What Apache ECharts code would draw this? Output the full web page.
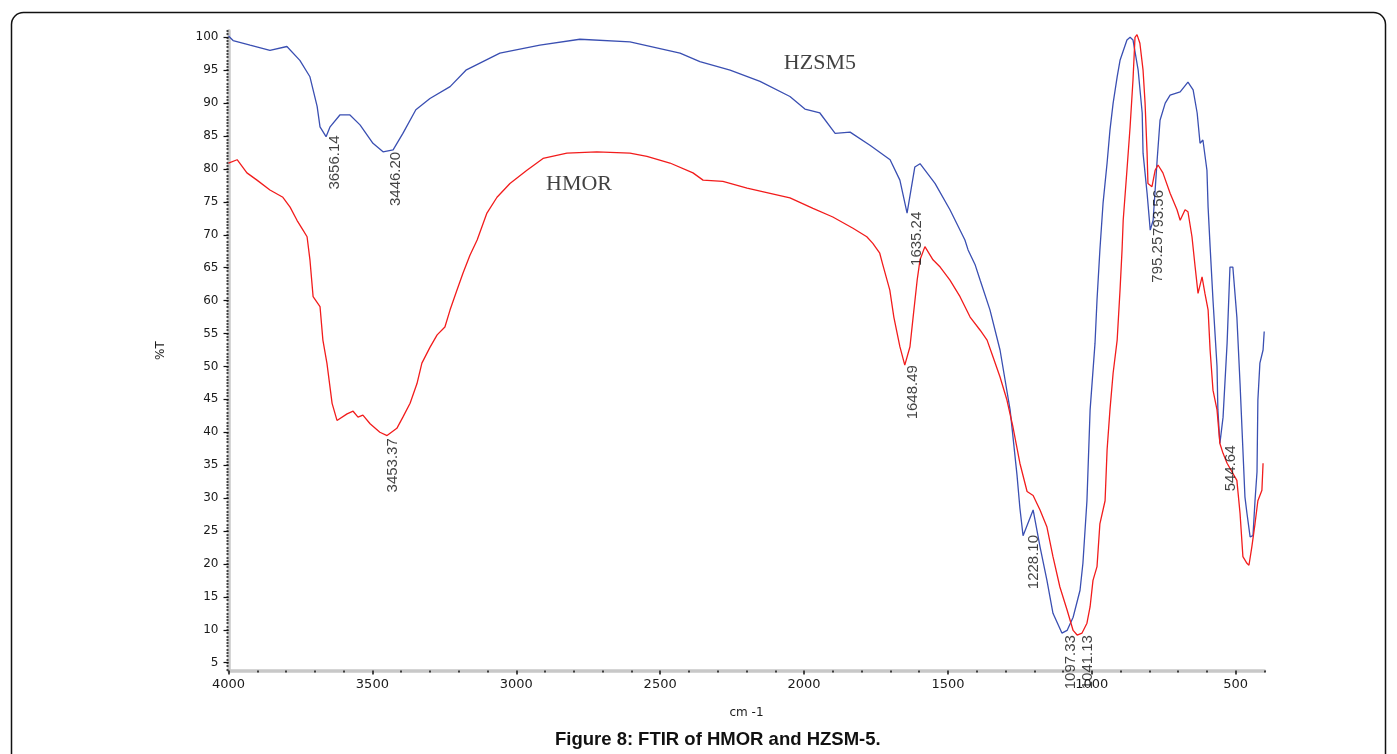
<!DOCTYPE html>
<html><head><meta charset="utf-8">
<script src="https://cdn.jsdelivr.net/npm/echarts@6/dist/echarts.min.js"></script>
<style>html,body{margin:0;padding:0;background:#fff}#c{width:1397px;height:754px}</style>
</head><body><div id="c"></div>
<script>
// ---- data ----
const hzsm5Wavenumber = [4000,3984,3925,3856,3797,3752,3717,3692,3682,3661,3647,3613,3578,3543,3498,3463,3428,3394,3349,3300,3230,3175,3057,2918,2779,2605,2431,2362,2257,2153,2049,1997,1945,1892,1840,1771,1701,1667,1642,1615,1597,1545,1493,1441,1430,1406,1388,1354,1319,1284,1274,1260,1250,1239,1204,1180,1156,1135,1104,1086,1065,1041,1031,1017,1006,989,982,972,961,947,937,926,912,902,878,867,857,839,825,822,808,797,787,773,763,745,728,693,666,648,634,624,614,600,596,589,579,565,562,555,544,530,520,510,496,485,475,468,461,450,440,433,426,423,416,405,401];
const hzsm5T = [100.2,99.5,98.8,98.0,98.6,96.5,94.0,89.5,86.4,84.9,86.4,88.2,88.2,86.7,83.9,82.6,82.9,85.4,89.0,90.7,92.5,95.0,97.6,98.8,99.7,99.3,97.6,96.3,95.0,93.3,91.0,89.1,88.5,85.4,85.6,83.6,81.4,78.3,73.3,80.3,80.8,77.8,73.8,69.2,67.7,65.5,63.1,58.6,52.5,43.4,39.3,33.5,28.5,24.3,28.2,22.6,17.5,12.5,9.5,9.9,11.9,16.0,20.1,29.6,43.4,53.5,60.1,67.7,74.8,80.9,85.9,90.0,94.0,96.5,99.6,100.0,99.6,95.0,88.5,82.4,76.3,70.7,72.2,81.4,87.4,90.0,91.2,91.7,93.2,92.0,88.5,83.9,84.4,79.8,74.2,68.2,60.1,50.0,43.4,38.3,42.3,53.5,65.1,65.1,57.5,47.4,37.3,30.2,27.7,24.1,24.3,29.6,34.0,44.9,50.5,52.5,55.3];
const hmorWavenumber = [4000,3970,3936,3901,3856,3811,3786,3762,3741,3727,3717,3706,3682,3672,3658,3640,3623,3588,3567,3550,3533,3508,3474,3449,3415,3394,3369,3345,3328,3300,3275,3248,3230,3206,3185,3161,3136,3102,3067,3022,2963,2907,2824,2720,2605,2546,2466,2386,2351,2282,2198,2118,2049,1969,1900,1830,1782,1761,1737,1726,1702,1688,1667,1650,1632,1621,1607,1597,1580,1552,1527,1493,1458,1423,1388,1364,1343,1319,1295,1274,1250,1225,1204,1180,1156,1135,1111,1086,1065,1051,1034,1017,1006,996,982,972,954,947,937,926,912,902,895,891,878,867,857,850,843,833,822,815,808,805,791,780,770,753,728,704,693,676,666,652,641,631,617,607,596,589,579,565,555,544,530,496,485,475,461,454,444,433,423,409,405];
const hmorT = [80.9,81.4,79.4,78.3,76.8,75.7,74.2,72.2,70.7,69.7,66.2,60.6,59.1,54.0,50.5,44.4,41.8,42.8,43.2,42.3,42.6,41.3,40.0,39.5,40.6,42.3,44.4,47.4,50.5,52.9,54.8,56.0,58.6,61.6,64.2,66.9,69.2,73.3,75.7,77.8,79.8,81.6,82.4,82.6,82.4,81.9,80.9,79.4,78.3,78.1,77.1,76.3,75.6,74.0,72.7,71.0,69.7,68.7,67.2,65.4,61.6,57.5,53.0,50.2,53.0,57.5,63.1,66.2,68.2,66.2,65.1,63.1,60.6,57.5,55.5,54.0,51.4,48.4,44.9,40.8,35.3,31.0,30.4,28.2,25.6,21.1,16.5,13.0,9.9,9.2,9.5,11.0,13.5,17.5,19.6,26.1,29.6,37.3,43.4,49.0,54.0,61.6,67.7,72.2,79.8,86.4,93.5,100.0,100.4,99.1,95.0,90.0,82.4,77.8,77.3,79.8,80.6,79.4,76.3,73.8,72.2,73.8,73.5,69.7,65.1,61.1,63.6,61.1,58.6,52.5,46.4,43.4,38.3,36.8,35.3,32.7,27.7,21.1,20.1,19.8,22.6,26.1,29.6,31.2,35.3];

const peakWavenumber = [3656.14, 3446.20, 3453.37, 1635.24, 1648.49, 1228.10, 1097.33, 1041.13, 795.25, 793.56, 544.64];
const peakT = [85.1, 82.6, 39.1, 73.5, 50.2, 24.4, 9.2, 9.2, 69.7, 76.8, 38.0];
const peakLabels = ['3656.14','3446.20','3453.37','1635.24','1648.49','1228.10','1097.33','1041.13','795.25','793.56','544.64'];

const curveNames = ['HZSM5', 'HMOR'];
const curveNameWavenumber = [1945, 2782];
const curveNameT = [96.0, 77.7];

const xMajorTicks = [4000, 3500, 3000, 2500, 2000, 1500, 1000, 500];
const yMajorTicks = [5,10,15,20,25,30,35,40,45,50,55,60,65,70,75,80,85,90,95,100];
const xTitle = 'cm -1';
const yTitle = '%T';

// ---- build ----
const zip = (a, b) => a.map((v, i) => [v, b[i]]);
const yMinorTicks = [];
for (let v = 4; v <= 101; v += 0.5) yMinorTicks.push(v);

const X_MIN = 400, X_MAX = 4000, Y_MIN = 3.8, Y_MAX = 101;
const tickFont = { fontFamily: 'DejaVu Sans', fontSize: 12, color: '#1a1a1a' };
const plain = v => String(v);

const chart = echarts.init(document.getElementById('c'), null, { renderer: 'canvas' });
chart.setOption({
  animation: false,
  backgroundColor: '#ffffff',
  title: {
    left: 550, top: 725,
    text: '{b|Figure 8:} {n|FTIR of HMOR and HZSM-5.}',
    textStyle: {
      rich: {
        b: { fontFamily: 'Liberation Sans', fontSize: 18.5, fontWeight: 'bold', color: '#111' },
        n: { fontFamily: 'Liberation Sans', fontSize: 18.5, color: '#111' }
      }
    }
  },
  graphic: [{
    type: 'rect', silent: true, z: -10,
    shape: { x: 11.5, y: 12.5, width: 1374, height: 800, r: 12 },
    style: { fill: 'none', stroke: '#111', lineWidth: 1.5 }
  }],
  grid: { left: 228.5, right: 132.5, top: 30.7, bottom: 83.4, containLabel: false },
  xAxis: [{
    type: 'value', inverse: true, min: X_MIN, max: X_MAX,
    name: xTitle, nameLocation: 'middle', nameGap: 36,
    nameTextStyle: { fontFamily: 'DejaVu Sans', fontSize: 12, color: '#1a1a1a' },
    axisLine: { show: true, onZero: false, lineStyle: { color: '#c8c8c8', width: 3.5 } },
    axisTick: { show: true, customValues: xMajorTicks, length: 4, lineStyle: { color: '#111', width: 1.5 } },
    axisLabel: { show: true, customValues: xMajorTicks, formatter: plain, margin: 8, ...tickFont, fontSize: 13 },
    splitLine: { show: false }
  }, {
    type: 'value', inverse: true, min: X_MIN, max: X_MAX, interval: 100, gridIndex: 0, position: 'bottom',
    axisLine: { show: false }, axisLabel: { show: false }, splitLine: { show: false },
    axisTick: { show: true, length: 2, lineStyle: { color: '#111', width: 1.5 } }
  }],
  yAxis: [{
    type: 'value', min: Y_MIN, max: Y_MAX,
    name: yTitle, nameLocation: 'middle', nameGap: 62, nameRotate: 90,
    nameTextStyle: { fontFamily: 'DejaVu Sans', fontSize: 12, color: '#1a1a1a' },
    axisLine: { show: true, onZero: false, lineStyle: { color: '#c8c8c8', width: 3.5 } },
    axisTick: { show: true, customValues: yMajorTicks, length: 5, lineStyle: { color: '#111', width: 1.2 } },
    axisLabel: { show: true, customValues: yMajorTicks, formatter: plain, margin: 10, ...tickFont },
    splitLine: { show: false }
  }, {
    type: 'value', min: Y_MIN, max: Y_MAX, gridIndex: 0, position: 'left',
    axisLine: { show: false }, axisLabel: { show: false }, splitLine: { show: false },
    axisTick: { show: true, customValues: yMinorTicks, length: 2, lineStyle: { color: '#111', width: 1.5 } }
  }],
  series: [{
    name: 'HZSM5', type: 'line', xAxisIndex: 0, yAxisIndex: 0,
    data: zip(hzsm5Wavenumber, hzsm5T), showSymbol: false, symbol: 'none',
    lineStyle: { color: '#3a4fb2', width: 1.3 }, z: 3
  }, {
    name: 'HMOR', type: 'line', xAxisIndex: 0, yAxisIndex: 0,
    data: zip(hmorWavenumber, hmorT), showSymbol: false, symbol: 'none',
    lineStyle: { color: '#f21c1c', width: 1.3 }, z: 4
  }, {
    name: 'peaks', type: 'scatter', xAxisIndex: 0, yAxisIndex: 0,
    symbolSize: 0, silent: true, z: 6,
    data: peakWavenumber.map((w, i) => ({ value: [w, peakT[i]], label: { formatter: peakLabels[i] } })),
    label: {
      show: true, position: [0, 0], rotate: 90, align: 'right', verticalAlign: 'top',
      fontFamily: 'Liberation Sans', fontSize: 15, color: '#111'
    }
  }, {
    name: 'curveNames', type: 'scatter', xAxisIndex: 0, yAxisIndex: 0,
    symbolSize: 0, silent: true, z: 6,
    data: curveNames.map((n, i) => ({ value: [curveNameWavenumber[i], curveNameT[i]], label: { formatter: n } })),
    label: {
      show: true, position: 'inside', align: 'center', verticalAlign: 'middle',
      fontFamily: 'Liberation Serif', fontSize: 22, color: '#111'
    }
  }]
});
</script>
</body></html>
